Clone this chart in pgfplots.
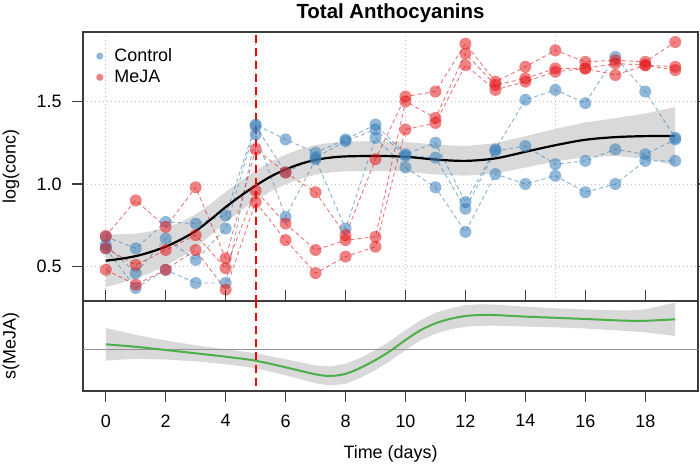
\documentclass[border=0pt]{standalone}
\usepackage{pgfplots}
\pgfplotsset{compat=1.18}
\usepackage{pgfplotstable}
\usepackage{fontspec}
\setmainfont{Liberation Sans}
\definecolor{cblue}{HTML}{377EB8}
\definecolor{cred}{HTML}{E41A1C}
\definecolor{cgreen}{HTML}{4DAF4A}
\definecolor{bandgray}{RGB}{217,217,217}
\definecolor{framegray}{RGB}{60,60,60}

\pgfplotstableread{
day c1 c2 c3
0 0.68 0.63 0.61
1 0.61 0.46 0.37
2 0.77 0.67 0.48
3 0.76 0.54 0.40
4 0.81 0.73 0.40
5 1.36 1.35 1.30
6 1.27 1.07 0.80
7 1.19 1.16 1.15
8 1.27 1.26 0.73
9 1.36 1.33 1.28
10 1.18 1.17 1.10
11 1.25 1.16 0.98
12 0.89 0.85 0.71
13 1.21 1.20 1.06
14 1.51 1.23 1.00
15 1.57 1.12 1.05
16 1.49 1.14 0.95
17 1.77 1.21 1.00
18 1.56 1.18 1.14
19 1.28 1.27 1.14
}\ctrldata

\pgfplotstableread{
day m1 m2 m3
0 0.685 0.61 0.48
1 0.90 0.51 0.39
2 0.74 0.60 0.48
3 0.98 0.69 0.60
4 0.55 0.49 0.36
5 1.21 0.96 0.89
6 1.07 0.76 0.66
7 0.95 0.60 0.46
8 0.69 0.66 0.56
9 1.15 0.68 0.62
10 1.53 1.50 1.33
11 1.56 1.40 1.37
12 1.85 1.79 1.72
13 1.62 1.60 1.57
14 1.71 1.64 1.62
15 1.81 1.70 1.68
16 1.74 1.70 1.70
17 1.75 1.73 1.66
18 1.74 1.72 1.72
19 1.86 1.71 1.69
}\mejadata

\pgfplotstableread{
x c
0 0.535
0.5 0.547
1 0.563
1.5 0.588
2 0.62
2.5 0.663
3 0.715
3.5 0.785
4 0.86
4.5 0.928
5 0.99
5.5 1.045
6 1.088
6.5 1.122
7 1.146
7.5 1.16
8 1.167
9 1.17
10 1.165
11 1.148
12 1.14
13 1.155
14 1.195
15 1.235
16 1.268
17 1.284
18 1.29
19 1.29
}\smtop

\pgfplotstableread{
x y
0 0.695
0.5 0.695
1 0.699
1.5 0.713
2 0.735
2.5 0.770
3 0.815
3.5 0.880
4 0.952
4.5 1.018
5 1.080
5.5 1.135
6 1.178
6.5 1.212
7 1.236
7.5 1.250
8 1.257
9 1.260
10 1.255
11 1.238
12 1.230
13 1.247
14 1.290
15 1.334
16 1.373
17 1.399
18 1.427
19 1.467
19 1.113
18 1.153
17 1.169
16 1.163
15 1.136
14 1.100
13 1.063
12 1.050
11 1.058
10 1.075
9 1.080
8 1.077
7.5 1.070
7 1.056
6.5 1.032
6 0.998
5.5 0.955
5 0.900
4.5 0.838
4 0.768
3.5 0.690
3 0.615
2.5 0.556
2 0.505
1.5 0.463
1 0.427
0.5 0.399
0 0.375
}\bandtop

\pgfplotstableread{
x c
0 0.5
1 0.25
2 -0.07
3 -0.4
4 -0.74
5 -1.14
6 -1.8
7 -2.5
7.5 -2.67
8 -2.45
8.5 -1.85
9 -1.07
9.5 -0.15
10 0.93
10.5 1.9
11 2.6
11.5 3.05
12 3.33
12.5 3.43
13 3.42
14 3.27
15 3.15
16 3.03
17 2.9
17.5 2.85
18 2.85
19 3.0
}\smbot

\pgfplotstableread{
x y
0 2.13
1 1.45
2 0.88
3 0.4
4 0.01
5 -0.39
6 -1.0
7 -1.6
7.5 -1.72
8 -1.45
8.5 -0.85
9 -0.07
9.5 0.85
10 1.93
10.5 2.9
11 3.65
11.5 4.1
12 4.41
12.5 4.51
13 4.47
14 4.27
15 4.1
16 3.98
17 3.9
17.5 3.9
18 4.0
19 4.67
19 1.33
18 1.7
17.5 1.8
17 1.9
16 2.08
15 2.2
14 2.27
13 2.37
12.5 2.35
12 2.25
11.5 2.0
11 1.55
10.5 0.9
10 -0.07
9.5 -1.15
9 -2.07
8.5 -2.85
8 -3.45
7.5 -3.62
7 -3.4
6 -2.6
5 -1.89
4 -1.49
3 -1.2
2 -1.02
1 -0.95
0 -1.13
}\bandbot

\newcommand{\basefont}{\fontsize{18}{21.6}\selectfont}

\pgfplotsset{
  rstyle/.style={
    scale only axis,
    width=615bp,
    xmin=-0.76, xmax=19.76,
    axis line style={framegray, line width=1.1bp},
    tick align=outside,
    major tick length=10.5bp,
    tick style={framegray, line width=1.1bp},
    tick label style={font=\basefont},
    /pgf/number format/assume math mode=true,
  },
  ctrlline/.style={cblue, line width=0.9bp, dash pattern=on 4bp off 3bp, draw opacity=0.6,
    mark=*, mark size=6bp, mark options={solid, draw opacity=0, fill=cblue, fill opacity=0.55}},
  mejaline/.style={cred, line width=0.9bp, dash pattern=on 4bp off 3bp, draw opacity=0.6,
    mark=*, mark size=6bp, mark options={solid, draw opacity=0, fill=cred, fill opacity=0.55}},
}

\begin{document}
\begin{tikzpicture}
\useasboundingbox (0,0) rectangle (700bp,465bp);

\begin{axis}[rstyle,
  at={(83bp,164bp)}, anchor=south west,
  height=269bp,
  ymin=0.291, ymax=1.921,
  xtick={0,5,10,15},
  xticklabels={},
  major x tick style={draw=none},
  xmajorgrids,
  ytick={0.5,1.0,1.5},
  yticklabels={0.5,1.0,1.5},
  yticklabel style={xshift=-7.5bp},
  ymajorgrids,
  grid style={black!25, line width=0.9bp, dash pattern=on 1bp off 3bp},
  legend style={at={(0,1)}, anchor=north west, xshift=10bp, yshift=-12.7bp,
    draw=none, fill=none, font=\basefont, row sep=3bp, column sep=9bp,
    nodes={inner sep=2bp}},
  legend cell align=left,
]
\addlegendimage{only marks, mark=*, mark size=3.6bp, mark options={draw opacity=0, fill=cblue, fill opacity=0.55}}
\addlegendentry{Control}
\addlegendimage{only marks, mark=*, mark size=3.6bp, mark options={draw opacity=0, fill=cred, fill opacity=0.55}}
\addlegendentry{MeJA}

\addplot[fill=bandgray, draw=none] table[x=x, y=y] {\bandtop};

\addplot[ctrlline] table[x=day, y=c1] {\ctrldata};
\addplot[ctrlline] table[x=day, y=c2] {\ctrldata};
\addplot[ctrlline] table[x=day, y=c3] {\ctrldata};
\addplot[mejaline] table[x=day, y=m1] {\mejadata};
\addplot[mejaline] table[x=day, y=m2] {\mejadata};
\addplot[mejaline] table[x=day, y=m3] {\mejadata};

\addplot[black, line width=2.2bp, smooth] table[x=x, y=c] {\smtop};
\addplot[red, line width=2.2bp, dash pattern=on 8bp off 5bp] coordinates {(5,0.2) (5,2.0)};
\end{axis}

\begin{axis}[rstyle,
  at={(83bp,74bp)}, anchor=south west,
  height=90bp,
  ymin=-4.17, ymax=4.83,
  ytick=\empty,
  xtick={0,2,...,18},
  xticklabel style={yshift=-9.5bp},
]
\addplot[fill=bandgray, draw=none] table[x=x, y=y] {\bandbot};
\addplot[black!42, line width=1bp] coordinates {(-1,0) (21,0)};
\addplot[cgreen, line width=2bp, smooth] table[x=x, y=c] {\smbot};
\addplot[red, line width=2.2bp, dash pattern=on 8bp off 5bp] coordinates {(5,-5) (5,5)};
\end{axis}

\node[font=\bfseries\fontsize{20.5}{24}\selectfont] at (390.5bp,452bp) {Total Anthocyanins};
\node[font=\basefont, rotate=90] at (11bp,298.5bp) {log(conc)};
\node[font=\basefont, rotate=90] at (11bp,119bp) {s(MeJA)};
\node[font=\basefont] at (390.5bp,11bp) {Time (days)};
\end{tikzpicture}
\end{document}
